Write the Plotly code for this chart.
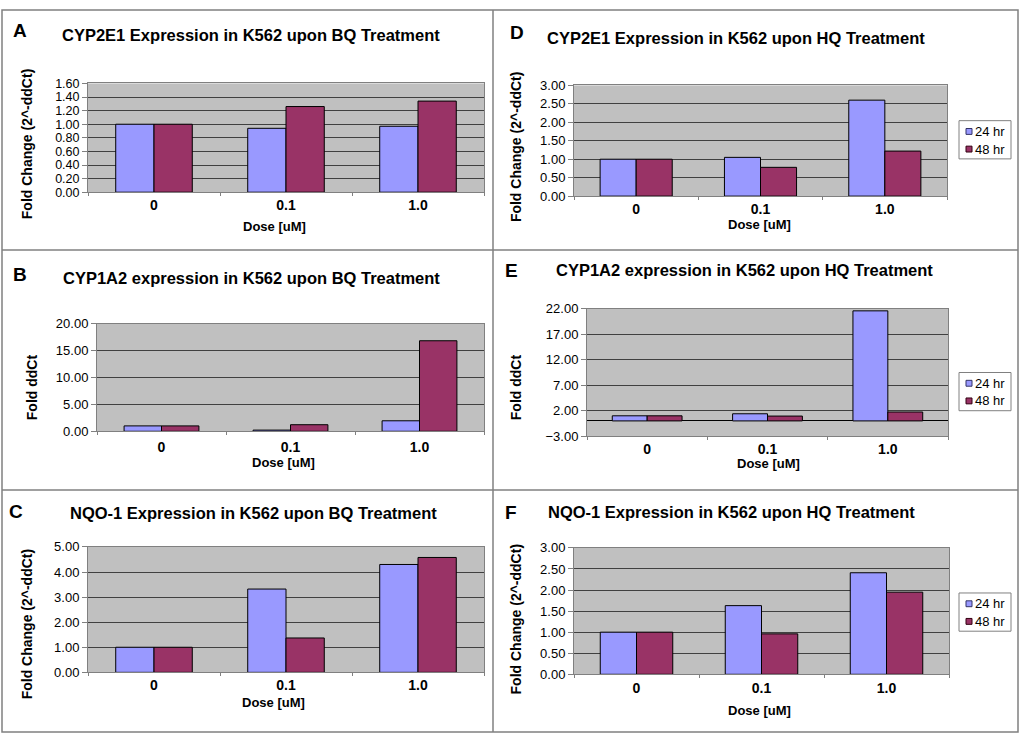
import plotly.graph_objects as go

# ---------------- data ----------------
categories = ["0", "0.1", "1.0"]
series_names = ["24 hr", "48 hr"]

a_24 = [1.00, 0.94, 0.97]
a_48 = [1.00, 1.26, 1.34]
b_24 = [1.00, 0.22, 1.95]
b_48 = [1.00, 1.22, 16.80]
c_24 = [1.00, 3.32, 4.30]
c_48 = [1.00, 1.37, 4.58]
d_24 = [1.00, 1.05, 2.60]
d_48 = [1.00, 0.78, 1.22]
e_24 = [1.00, 1.40, 21.60]
e_48 = [1.00, 0.95, 1.75]
f_24 = [1.00, 1.63, 2.41]
f_48 = [1.00, 0.96, 1.95]

panel_letters = ["A", "D", "B", "E", "C", "F"]
panel_titles = [
    "CYP2E1 Expression in K562 upon BQ Treatment",
    "CYP2E1 Expression in K562 upon HQ Treatment",
    "CYP1A2 expression in K562 upon BQ Treatment",
    "CYP1A2 expression in K562 upon HQ Treatment",
    "NQO-1 Expression in K562 upon BQ Treatment",
    "NQO-1 Expression in K562 upon HQ Treatment",
]
y_titles = [
    "Fold Change (2^-ddCt)", "Fold Change (2^-ddCt)",
    "Fold ddCt", "Fold ddCt",
    "Fold Change (2^-ddCt)", "Fold Change (2^-ddCt)",
]
x_title = "Dose [uM]"
y_ranges = [(0, 1.6), (0, 3), (0, 20), (-3, 22), (0, 5), (0, 3)]
y_tick0 = [0, 0, 0, -3, 0, 0]
y_dtick = [0.2, 0.5, 5, 5, 1, 0.5]
values = [(a_24, a_48), (d_24, d_48), (b_24, b_48), (e_24, e_48), (c_24, c_48), (f_24, f_48)]
has_legend = [False, True, False, True, False, True]

# ---------------- geometry (target picture pixels) ----------------
W, H = 1024, 746

plot_boxes = [  # x0, x1, y_top, y_bottom
    (88, 484, 78, 189),
    (574, 947, 80, 193),
    (97, 484, 323, 433),
    (587, 948, 308, 438),
    (88, 484, 551, 679),
    (574, 949, 552, 681),
]
xlabel_standoff = [0, 0, 3, 0, 0, 1]
ytick_size = [12.5, 13, 13, 13, 13, 13]
letter_pos = [(20, 24), (517, 26), (20, 273), (511, 269), (16, 515), (511, 516)]
title_pos = [(251, 29), (736, 32), (251, 277), (744, 268), (253, 516), (731, 515)]
ytitle_pos = [(27, 140), (516, 143), (32, 388), (516, 388), (27, 630), (516, 625)]
xtitle_pos = [(274, 224), (759, 222), (283, 465), (768, 466), (273, 710), (759, 718)]
legend_box = [None, (959, 1011, 116, 155), None, (959, 1011, 373, 412), None, (959, 1011, 598, 637)]


def px(x, y):
    return x / W, 1 - y / H


colors = ["#9999FF", "#993366"]
sq_edge = ["#333366", "#330011"]
FONT = "Liberation Sans, Arial, sans-serif"

fig = go.Figure()
layout = dict(
    width=W, height=H,
    margin=dict(l=0, r=0, t=0, b=0),
    paper_bgcolor="white",
    plot_bgcolor="#C0C0C0",
    barmode="group", bargap=0.42, bargroupgap=0,
    showlegend=False,
    font=dict(family=FONT, color="black"),
)
annotations = []
shapes = []


def ann(x, y, text, size, bold=False, angle=0, xanchor="center"):
    ax_, ay_ = px(x, y)
    annotations.append(dict(
        x=ax_, y=ay_, xref="paper", yref="paper",
        text=("<b>%s</b>" % text) if bold else text,
        showarrow=False, xanchor=xanchor, yanchor="middle", textangle=angle,
        font=dict(size=size, family=FONT, color="black"),
    ))


for i in range(6):
    ax = "" if i == 0 else str(i + 1)
    xa, ya = "x" + ax, "y" + ax
    x0, x1, yt, yb = plot_boxes[i]
    dx0 = px(x0, 0)[0]
    dx1 = px(x1, 0)[0]
    dy0 = px(0, yb)[1]
    dy1 = px(0, yt)[1]
    for s in range(2):
        fig.add_trace(go.Bar(
            x=categories, y=values[i][s], name=series_names[s],
            marker=dict(color=colors[s], line=dict(color="black", width=1)),
            xaxis=xa, yaxis=ya, hoverinfo="skip", showlegend=False,
        ))
    layout["xaxis" + ax] = dict(
        domain=[dx0, dx1], anchor=ya, type="category",
        showline=True, linecolor="#808080", linewidth=1, mirror=True,
        ticks="outside", tickson="boundaries", ticklen=3, tickcolor="#808080",
        ticklabelstandoff=xlabel_standoff[i],
        tickfont=dict(size=14, family=FONT, color="black", weight="bold"),
        showgrid=False, fixedrange=True,
    )
    layout["yaxis" + ax] = dict(
        domain=[dy0, dy1], anchor=xa,
        range=list(y_ranges[i]), tick0=y_tick0[i], dtick=y_dtick[i],
        tickformat=".2f",
        showline=True, linecolor="#808080", linewidth=1, mirror=True,
        ticks="outside", ticklen=5, tickcolor="#808080",
        tickfont=dict(size=ytick_size[i], family=FONT, color="black"),
        showgrid=True, gridcolor="#404040", gridwidth=1,
        zeroline=(y_ranges[i][0] < 0), zerolinecolor="black", zerolinewidth=1,
        fixedrange=True,
    )
    ann(*letter_pos[i], panel_letters[i], 19, bold=True)
    ann(*title_pos[i], panel_titles[i], 16.5, bold=True)
    ann(*ytitle_pos[i], y_titles[i], 14, bold=True, angle=-90)
    ann(*xtitle_pos[i], x_title, 13, bold=True)

    if has_legend[i]:
        lx0, lx1, ly0, ly1 = legend_box[i]
        bx0, by1 = px(lx0, ly0)
        bx1, by0 = px(lx1, ly1)
        shapes.append(dict(type="rect", xref="paper", yref="paper",
                           x0=bx0, x1=bx1, y0=by0, y1=by1,
                           fillcolor="white", line=dict(color="#808080", width=1)))
        for s in range(2):
            cy = ly0 + 11 + 18 * s
            sx0, sy1 = px(lx0 + 7, cy - 3)
            sx1, sy0 = px(lx0 + 13, cy + 3)
            shapes.append(dict(type="rect", xref="paper", yref="paper",
                               x0=sx0, x1=sx1, y0=sy0, y1=sy1,
                               fillcolor=colors[s], line=dict(color=sq_edge[s], width=1)))
            ann(lx0 + 14, cy, series_names[s], 13, xanchor="left")

# panel frame lines
line = dict(color="#808080", width=1.5)
fx0, fy1 = px(2, 3)
fx1, fy0 = px(1018, 740)
shapes.append(dict(type="rect", xref="paper", yref="paper",
                   x0=fx0, x1=fx1, y0=fy0, y1=fy1, line=line))
vx = px(493, 0)[0]
shapes.append(dict(type="line", xref="paper", yref="paper",
                   x0=vx, x1=vx, y0=fy0, y1=fy1, line=line))
for yy in (248, 493):
    hy = px(0, yy)[1]
    shapes.append(dict(type="line", xref="paper", yref="paper",
                       x0=fx0, x1=fx1, y0=hy, y1=hy, line=line))

layout["annotations"] = annotations
layout["shapes"] = shapes
fig.update_layout(**layout)
fig.write_html("out.html",
               config={"displayModeBar": False, "staticPlot": True},
               post_script="document.body.style.margin='0px';document.body.style.overflow='hidden';")
